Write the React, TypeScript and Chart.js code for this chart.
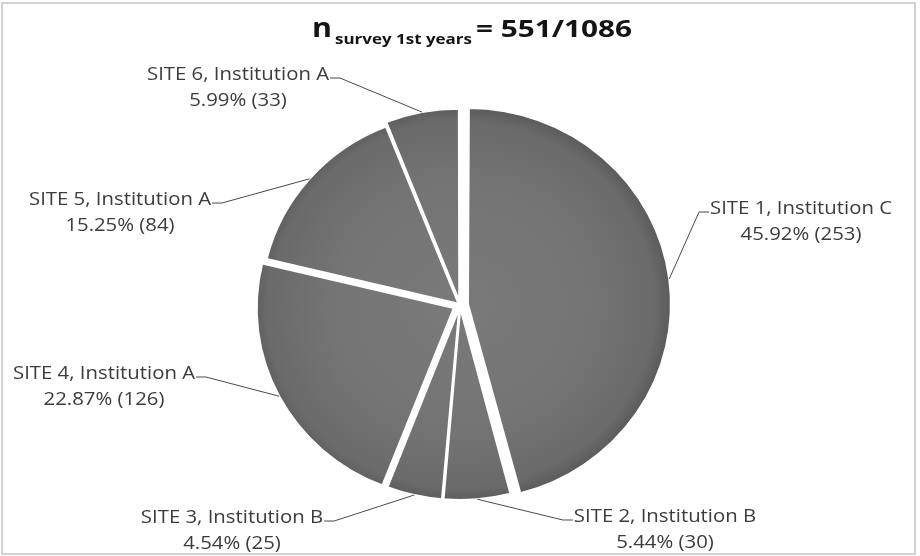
import React, { useEffect, useRef } from "react";
import { Chart, registerables } from "chart.js";

Chart.register(...registerables);

// ---------- data ----------
const siteLabels = [
  "SITE 1, Institution C",
  "SITE 2, Institution B",
  "SITE 3, Institution B",
  "SITE 4, Institution A",
  "SITE 5, Institution A",
  "SITE 6, Institution A",
];
const respondents = [253, 30, 25, 126, 84, 33];
const invitedTotal = 1086;
const titleLetter = "n";
const titleSubscript = "survey 1st years";

// ---------- layout / style (not data) ----------
const sliceOffsets = [32, 12, 12, 28, 8, 16]; // chart.js offset (drawn shift = offset / 4)
const labelLayout = [
  { x: 801, y: 209, side: "right" },
  { x: 665, y: 517, side: "right" },
  { x: 232, y: 518, side: "left" },
  { x: 104, y: 374, side: "left" },
  { x: 120, y: 200, side: "left" },
  { x: 238, y: 75, side: "left" },
];
const Y_SCALE = 0.965;
const LABEL_FONT = '18px "Open Sans"';
const LABEL_STRETCH = 1.13;

function pieCenter(chart: any) {
  const a = chart.chartArea;
  return { cx: (a.left + a.right) / 2, cy: (a.top + a.bottom) / 2 };
}

const squashPlugin = {
  id: "squash",
  beforeDatasetsDraw(chart: any) {
    const { cy } = pieCenter(chart);
    const ctx = chart.ctx;
    ctx.save();
    ctx.translate(0, cy);
    ctx.scale(1, Y_SCALE);
    ctx.translate(0, -cy);
  },
  afterDatasetsDraw(chart: any) {
    chart.ctx.restore();
  },
};

function drawScaled(ctx: CanvasRenderingContext2D, text: string, x: number, baseline: number, font: string, targetW: number) {
  ctx.font = font;
  const w = ctx.measureText(text).width;
  ctx.save();
  ctx.translate(x, baseline);
  ctx.scale(targetW / w, 1);
  ctx.fillText(text, 0, 0);
  ctx.restore();
}

function drawStretched(ctx: CanvasRenderingContext2D, text: string, cx: number, y: number) {
  ctx.save();
  ctx.translate(cx, y);
  ctx.scale(LABEL_STRETCH, 1);
  ctx.fillText(text, 0, 0);
  ctx.restore();
}

const decorPlugin = {
  id: "decor",
  beforeDraw(chart: any) {
    const ctx = chart.ctx;
    ctx.save();
    ctx.fillStyle = "#ffffff";
    ctx.fillRect(0, 0, chart.width, chart.height);
    ctx.strokeStyle = "#d2d2d2";
    ctx.lineWidth = 2;
    ctx.strokeRect(2, 3, 913, 551);
    ctx.restore();
  },
  afterDraw(chart: any) {
    const ctx: CanvasRenderingContext2D = chart.ctx;
    const meta = chart.getDatasetMeta(0);
    const total = respondents.reduce((a, b) => a + b, 0);
    const { cy } = pieCenter(chart);
    ctx.save();

    // title
    ctx.fillStyle = "#141414";
    ctx.textAlign = "left";
    ctx.textBaseline = "alphabetic";
    drawScaled(ctx, titleLetter, 312, 37, 'bold 27px "Open Sans"', 20);
    drawScaled(ctx, titleSubscript, 335, 44, 'bold 15px "Open Sans"', 137);
    drawScaled(ctx, `= ${total}/${invitedTotal}`, 476, 37, 'bold 23px "Open Sans"', 156);

    // labels + leader lines
    ctx.font = LABEL_FONT;
    ctx.textAlign = "center";
    ctx.textBaseline = "middle";
    meta.data.forEach((arc: any, i: number) => {
      const { x, y, startAngle, endAngle, outerRadius } = arc;
      const circ = endAngle - startAngle;
      const shift = (arc.options.offset || 0) / 4;
      const fix = 1 - Math.sin(Math.min(Math.PI, circ));
      const r = outerRadius + shift * fix;
      const mid = (startAngle + endAngle) / 2;
      const ex = x + Math.cos(mid) * (r + shift);
      const eyRaw = y + Math.sin(mid) * (r + shift);
      const ey = cy + (eyRaw - cy) * Y_SCALE;

      const L = labelLayout[i];
      const line1 = siteLabels[i];
      const line2 = `${((respondents[i] / total) * 100).toFixed(2)}% (${respondents[i]})`;
      const w = ctx.measureText(line1).width * LABEL_STRETCH;
      const sx = L.side === "left" ? L.x + w / 2 + 1 : L.x - w / 2 - 1;
      const hx = L.side === "left" ? sx + 10 : sx - 10;
      const sy = L.y + 3;
      ctx.strokeStyle = "#4a4a4a";
      ctx.lineWidth = 1;
      ctx.beginPath();
      ctx.moveTo(sx, sy);
      ctx.lineTo(hx, sy);
      ctx.lineTo(ex, ey);
      ctx.stroke();

      ctx.fillStyle = "#3c3c3c";
      drawStretched(ctx, line1, L.x, L.y);
      drawStretched(ctx, line2, L.x, L.y + 26);
    });
    ctx.restore();
  },
};

export default function App() {
  const canvasRef = useRef<HTMLCanvasElement | null>(null);

  useEffect(() => {
    const canvas = canvasRef.current;
    if (!canvas) return;
    const chart = new Chart(canvas, {
      type: "pie",
      data: {
        labels: siteLabels,
        datasets: [
          {
            data: respondents,
            radius: 197,
            offset: sliceOffsets,
            borderColor: "#ffffff",
            borderWidth: 2,
            backgroundColor: (c: any) => {
              const ch = c.chart;
              if (!ch.chartArea) return "#717171";
              const { cx, cy } = pieCenter(ch);
              const g = ch.ctx.createRadialGradient(cx, cy, 0, cx, cy, 208);
              g.addColorStop(0, "#7a7a7a");
              g.addColorStop(0.6, "#747474");
              g.addColorStop(0.9, "#6a6a6a");
              g.addColorStop(0.97, "#5c5c5c");
              g.addColorStop(1, "#4c4c4c");
              return g;
            },
          } as any,
        ],
      },
      options: {
        animation: false,
        responsive: false,
        devicePixelRatio: 1,
        layout: { padding: { top: 54, bottom: 0, left: 0, right: 0 } },
        plugins: {
          legend: { display: false },
          tooltip: { enabled: false },
          title: { display: false },
        },
        events: [],
      },
      plugins: [decorPlugin, squashPlugin],
    } as any);
    return () => chart.destroy();
  }, []);

  return (
    <div style={{ position: "fixed", left: 0, top: 0, width: 920, height: 556, background: "#fff" }}>
      <canvas ref={canvasRef} width={920} height={556} style={{ display: "block" }} />
    </div>
  );
}
